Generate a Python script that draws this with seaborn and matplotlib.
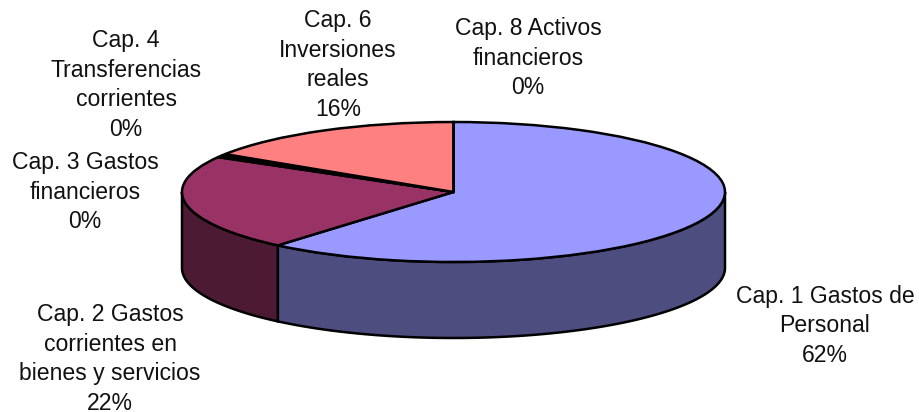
import numpy as np
import seaborn as sns
import matplotlib
matplotlib.use("Agg")
import matplotlib.pyplot as plt

# ---- Chart data ----
labels = ["Cap. 1 Gastos de\nPersonal\n62%",
          "Cap. 2 Gastos\ncorrientes en\nbienes y servicios\n22%",
          "Cap. 3 Gastos\nfinancieros\n0%",
          "Cap. 4\nTransferencias\ncorrientes\n0%",
          "Cap. 6\nInversiones\nreales\n16%",
          "Cap. 8 Activos\nfinancieros\n0%"]
values = [61.2, 22.1, 0.4, 0.4, 15.9, 0.0]
colors = ["#9999FF", "#993366", "#FFFFCC", "#CCFFFF", "#FF8080", "#660066"]
# --------------------

# layout, in pixels of the 920x412 figure
W, H = 920, 412
cx, cy, rx, ry = 453.5, 192, 271.5, 70
depth = 76 / ry
label_pos = [(825, 326), (110, 359), (85, 192), (126, 85), (338, 65), (528, 58)]

sns.set_theme(style="white")
plt.rcParams['font.family'] = ['Liberation Sans', 'DejaVu Sans']

fig = plt.figure(figsize=(W / 100, H / 100), dpi=100)
ax = fig.add_axes([0, 0, 1, 1])

ax.pie(values, colors=colors, startangle=90, counterclock=False, radius=1,
       wedgeprops={"edgecolor": "black", "linewidth": 1.8, "zorder": 3})

# side wall: only the part of each slice facing front
edges = np.cumsum([0] + values) / sum(values) * 360
for start, end, col in zip(edges[:-1], edges[1:], colors):
    a, b = max(start, 90), min(end, 270)
    if b <= a:
        continue
    t = np.radians(np.linspace(a, b, 100))
    xs = np.r_[np.sin(t), np.sin(t)[::-1]]
    ys = np.r_[np.cos(t), np.cos(t)[::-1] - depth]
    dark = tuple(c * 0.5 for c in matplotlib.colors.to_rgb(col))
    ax.fill(xs, ys, facecolor=dark, edgecolor="black", linewidth=1.8, zorder=2)

ax.set_aspect("auto")
ax.set_xlim(-cx / rx, (W - cx) / rx)
ax.set_ylim(-(H - cy) / ry, cy / ry)
ax.axis("off")

for text, (px, py) in zip(labels, label_pos):
    ax.text((px - cx) / rx, (cy - py) / ry, text, ha="center", va="center",
            fontsize=16.6, color="#111111", linespacing=1.37)

fig.savefig("out.png", dpi=100, facecolor="white")
